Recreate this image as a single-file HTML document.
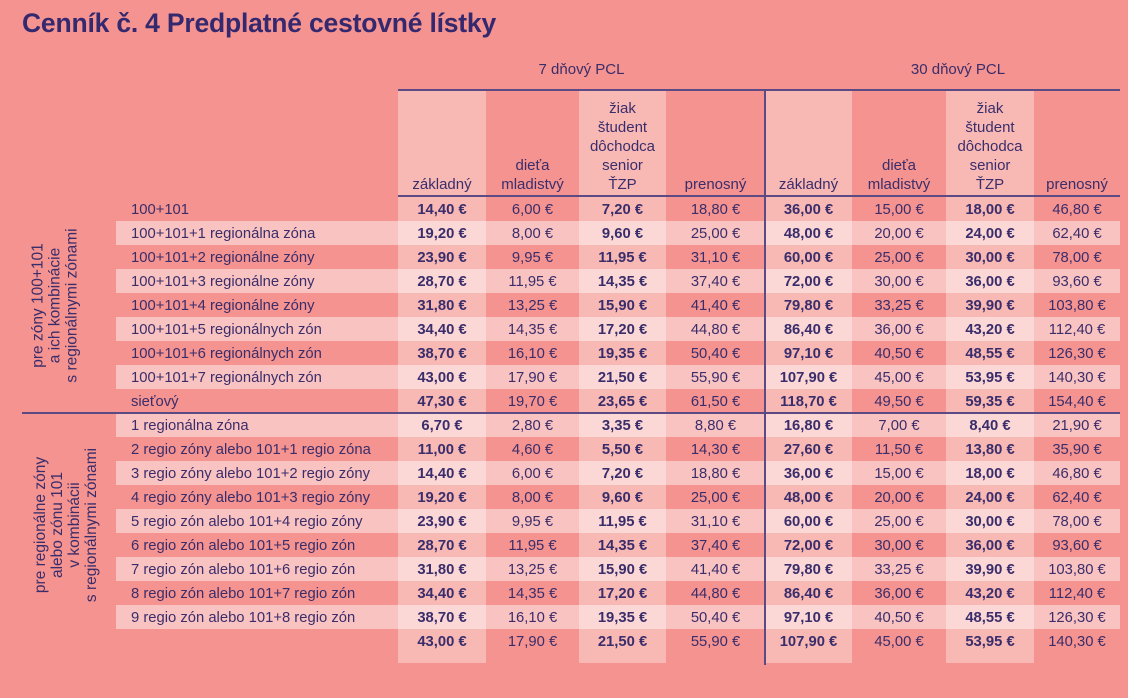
<!DOCTYPE html>
<html><head><meta charset="utf-8"><style>
*{margin:0;padding:0;box-sizing:border-box}
body{width:1128px;height:698px;background:#f4938f;font-family:"Liberation Sans",sans-serif;color:#3a2d6b;position:relative;overflow:hidden}
.a{position:absolute}
.title{left:22px;top:8px;font-size:26.5px;font-weight:bold;color:#34296f;letter-spacing:-0.2px}
.sh{background:#f8b9b5;top:90px;height:573px}
.st{left:116px;width:1004px;height:24px;background:rgba(255,255,255,0.45)}
.ln{background:#5b4a84}
table{position:absolute;left:116px;top:198px;border-collapse:collapse;table-layout:fixed;font-size:14.8px}
td{height:24px;padding:0;text-align:center;white-space:nowrap}
td:first-child{text-align:left;padding-left:15px}
td.b{font-weight:bold}
.hd{top:90px;height:106px;display:flex;flex-direction:column;justify-content:flex-end;align-items:center;text-align:center;font-size:15px;line-height:19px;padding-bottom:2px}
.grp{top:61px;font-size:15px;text-align:center}
.vl{font-size:15.5px;line-height:17px;text-align:center;transform:rotate(-90deg);white-space:nowrap}
</style></head><body>
<div class="a title">Cenník č. 4 Predplatné cestovné lístky</div>
<div class="a sh" style="left:398px;width:88px"></div>
<div class="a sh" style="left:579px;width:87px"></div>
<div class="a sh" style="left:765px;width:87px"></div>
<div class="a sh" style="left:946px;width:88px"></div>
<div class="a st" style="top:221px"></div>
<div class="a st" style="top:269px"></div>
<div class="a st" style="top:317px"></div>
<div class="a st" style="top:365px"></div>
<div class="a st" style="top:413px"></div>
<div class="a st" style="top:461px"></div>
<div class="a st" style="top:509px"></div>
<div class="a st" style="top:557px"></div>
<div class="a st" style="top:605px"></div>
<div class="a ln" style="left:398px;top:89px;width:722px;height:2px"></div>
<div class="a ln" style="left:398px;top:195px;width:722px;height:1.5px"></div>
<div class="a ln" style="left:22px;top:412px;width:1098px;height:1.5px"></div>
<div class="a ln" style="left:764px;top:90px;width:1.5px;height:575px"></div>
<div class="a grp" style="left:398px;width:367px">7 dňový PCL</div>
<div class="a grp" style="left:800px;width:316px">30 dňový PCL</div>
<div class="a hd" style="left:398px;width:88px">základný</div>
<div class="a hd" style="left:486px;width:93px">dieťa<br>mladistvý</div>
<div class="a hd" style="left:579px;width:87px">žiak<br>študent<br>dôchodca<br>senior<br>ŤZP</div>
<div class="a hd" style="left:666px;width:99px">prenosný</div>
<div class="a hd" style="left:765px;width:87px">základný</div>
<div class="a hd" style="left:852px;width:94px">dieťa<br>mladistvý</div>
<div class="a hd" style="left:946px;width:88px">žiak<br>študent<br>dôchodca<br>senior<br>ŤZP</div>
<div class="a hd" style="left:1034px;width:86px">prenosný</div>
<div class="a vl" style="left:-45px;top:280px;width:200px">pre zóny 100+101<br>a ich kombinácie<br>s regionálnymi zónami</div>
<div class="a vl" style="left:-34px;top:491px;width:200px">pre regionálne zóny<br>alebo zónu 101<br>v kombinácii<br>s regionálnymi zónami</div>
<table>
<colgroup><col style="width:282px"><col style="width:88px"><col style="width:93px"><col style="width:87px"><col style="width:99px"><col style="width:87px"><col style="width:94px"><col style="width:88px"><col style="width:86px"></colgroup>
<tr><td>100+101</td><td class="b">14,40 €</td><td>6,00 €</td><td class="b">7,20 €</td><td>18,80 €</td><td class="b">36,00 €</td><td>15,00 €</td><td class="b">18,00 €</td><td>46,80 €</td></tr>
<tr><td>100+101+1 regionálna zóna</td><td class="b">19,20 €</td><td>8,00 €</td><td class="b">9,60 €</td><td>25,00 €</td><td class="b">48,00 €</td><td>20,00 €</td><td class="b">24,00 €</td><td>62,40 €</td></tr>
<tr><td>100+101+2 regionálne zóny</td><td class="b">23,90 €</td><td>9,95 €</td><td class="b">11,95 €</td><td>31,10 €</td><td class="b">60,00 €</td><td>25,00 €</td><td class="b">30,00 €</td><td>78,00 €</td></tr>
<tr><td>100+101+3 regionálne zóny</td><td class="b">28,70 €</td><td>11,95 €</td><td class="b">14,35 €</td><td>37,40 €</td><td class="b">72,00 €</td><td>30,00 €</td><td class="b">36,00 €</td><td>93,60 €</td></tr>
<tr><td>100+101+4 regionálne zóny</td><td class="b">31,80 €</td><td>13,25 €</td><td class="b">15,90 €</td><td>41,40 €</td><td class="b">79,80 €</td><td>33,25 €</td><td class="b">39,90 €</td><td>103,80 €</td></tr>
<tr><td>100+101+5 regionálnych zón</td><td class="b">34,40 €</td><td>14,35 €</td><td class="b">17,20 €</td><td>44,80 €</td><td class="b">86,40 €</td><td>36,00 €</td><td class="b">43,20 €</td><td>112,40 €</td></tr>
<tr><td>100+101+6 regionálnych zón</td><td class="b">38,70 €</td><td>16,10 €</td><td class="b">19,35 €</td><td>50,40 €</td><td class="b">97,10 €</td><td>40,50 €</td><td class="b">48,55 €</td><td>126,30 €</td></tr>
<tr><td>100+101+7 regionálnych zón</td><td class="b">43,00 €</td><td>17,90 €</td><td class="b">21,50 €</td><td>55,90 €</td><td class="b">107,90 €</td><td>45,00 €</td><td class="b">53,95 €</td><td>140,30 €</td></tr>
<tr><td>sieťový</td><td class="b">47,30 €</td><td>19,70 €</td><td class="b">23,65 €</td><td>61,50 €</td><td class="b">118,70 €</td><td>49,50 €</td><td class="b">59,35 €</td><td>154,40 €</td></tr>
<tr><td>1 regionálna zóna</td><td class="b">6,70 €</td><td>2,80 €</td><td class="b">3,35 €</td><td>8,80 €</td><td class="b">16,80 €</td><td>7,00 €</td><td class="b">8,40 €</td><td>21,90 €</td></tr>
<tr><td>2 regio zóny alebo 101+1 regio zóna</td><td class="b">11,00 €</td><td>4,60 €</td><td class="b">5,50 €</td><td>14,30 €</td><td class="b">27,60 €</td><td>11,50 €</td><td class="b">13,80 €</td><td>35,90 €</td></tr>
<tr><td>3 regio zóny alebo 101+2 regio zóny</td><td class="b">14,40 €</td><td>6,00 €</td><td class="b">7,20 €</td><td>18,80 €</td><td class="b">36,00 €</td><td>15,00 €</td><td class="b">18,00 €</td><td>46,80 €</td></tr>
<tr><td>4 regio zóny alebo 101+3 regio zóny</td><td class="b">19,20 €</td><td>8,00 €</td><td class="b">9,60 €</td><td>25,00 €</td><td class="b">48,00 €</td><td>20,00 €</td><td class="b">24,00 €</td><td>62,40 €</td></tr>
<tr><td>5 regio zón alebo 101+4 regio zóny</td><td class="b">23,90 €</td><td>9,95 €</td><td class="b">11,95 €</td><td>31,10 €</td><td class="b">60,00 €</td><td>25,00 €</td><td class="b">30,00 €</td><td>78,00 €</td></tr>
<tr><td>6 regio zón alebo 101+5 regio zón</td><td class="b">28,70 €</td><td>11,95 €</td><td class="b">14,35 €</td><td>37,40 €</td><td class="b">72,00 €</td><td>30,00 €</td><td class="b">36,00 €</td><td>93,60 €</td></tr>
<tr><td>7 regio zón alebo 101+6 regio zón</td><td class="b">31,80 €</td><td>13,25 €</td><td class="b">15,90 €</td><td>41,40 €</td><td class="b">79,80 €</td><td>33,25 €</td><td class="b">39,90 €</td><td>103,80 €</td></tr>
<tr><td>8 regio zón alebo 101+7 regio zón</td><td class="b">34,40 €</td><td>14,35 €</td><td class="b">17,20 €</td><td>44,80 €</td><td class="b">86,40 €</td><td>36,00 €</td><td class="b">43,20 €</td><td>112,40 €</td></tr>
<tr><td>9 regio zón alebo 101+8 regio zón</td><td class="b">38,70 €</td><td>16,10 €</td><td class="b">19,35 €</td><td>50,40 €</td><td class="b">97,10 €</td><td>40,50 €</td><td class="b">48,55 €</td><td>126,30 €</td></tr>
<tr><td></td><td class="b">43,00 €</td><td>17,90 €</td><td class="b">21,50 €</td><td>55,90 €</td><td class="b">107,90 €</td><td>45,00 €</td><td class="b">53,95 €</td><td>140,30 €</td></tr>
</table>
</body></html>
